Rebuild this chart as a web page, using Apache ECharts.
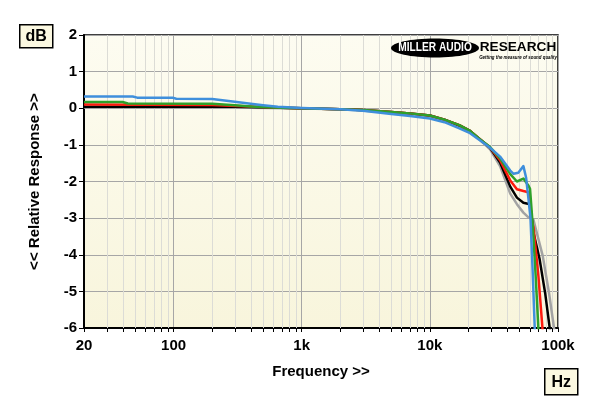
<!DOCTYPE html>
<html>
<head>
<meta charset="utf-8">
<script src="https://cdn.jsdelivr.net/npm/echarts@6/dist/echarts.min.js"></script>
<style>
  html, body { margin: 0; padding: 0; background: #fff; }
  #chart { width: 600px; height: 398px; }
</style>
</head>
<body>
<div id="chart"></div>
<script>
// frequency (Hz) / response (dB)
const blueFreq = [20, 48, 52, 98, 105, 200, 300, 400, 500, 650, 1000, 2000, 3000, 5000, 7000, 10000, 13000, 17000, 20600, 24700, 29500, 35300, 42400, 45000, 49000, 53700, 56400, 58500, 61000, 63500, 66000]
const blueDb = [0.32, 0.32, 0.29, 0.29, 0.26, 0.25, 0.18, 0.12, 0.08, 0.04, 0.01, -0.03, -0.07, -0.16, -0.21, -0.28, -0.38, -0.55, -0.68, -0.88, -1.08, -1.32, -1.7, -1.79, -1.76, -1.58, -1.9, -2.4, -3.0, -4.5, -6.1]

const greenFreq = [20, 40, 44, 200, 300, 400, 600, 1000, 2000, 3000, 5000, 7000, 10000, 13000, 17000, 20600, 24700, 29500, 35300, 42400, 47800, 53700, 58500, 60500, 63500, 67000, 70500]
const greenDb = [0.17, 0.17, 0.13, 0.12, 0.08, 0.05, 0.02, 0.0, -0.03, -0.05, -0.1, -0.14, -0.2, -0.31, -0.46, -0.62, -0.85, -1.06, -1.37, -1.8, -2.0, -1.92, -2.1, -2.2, -3.2, -4.6, -6.1]

const redFreq = [20, 200, 400, 600, 1000, 2000, 3000, 5000, 7000, 10000, 13000, 17000, 20600, 24700, 29500, 35300, 42400, 47800, 53700, 59800, 61500, 64400, 70400, 76000]
const redDb = [0.1, 0.09, 0.05, 0.02, 0.0, -0.03, -0.05, -0.1, -0.14, -0.2, -0.31, -0.46, -0.62, -0.85, -1.07, -1.42, -1.97, -2.21, -2.26, -2.3, -3.0, -3.25, -4.6, -6.1]

const blackFreq = [20, 300, 1000, 2000, 3000, 5000, 7000, 10000, 13000, 17000, 20600, 24700, 29500, 35300, 42400, 47800, 53700, 60500, 62000, 64400, 71700, 79400, 86900]
const blackDb = [0.04, 0.04, 0.0, -0.03, -0.05, -0.1, -0.14, -0.2, -0.31, -0.47, -0.62, -0.85, -1.08, -1.48, -2.14, -2.44, -2.58, -2.62, -2.9, -3.4, -4.1, -5.05, -6.1]

const grayFreq = [20, 300, 1000, 2000, 3000, 5000, 7000, 10000, 13000, 17000, 20600, 24700, 29500, 35300, 42400, 47800, 53700, 58800, 64400, 76000, 85000, 94000]
const grayDb = [0.02, 0.02, -0.01, -0.03, -0.06, -0.12, -0.16, -0.22, -0.32, -0.48, -0.64, -0.87, -1.12, -1.58, -2.33, -2.62, -2.85, -2.98, -3.05, -4.03, -5.03, -6.1]

// minor grid positions on the log axis
const minorFreq = [30, 40, 50, 60, 70, 80, 90, 200, 300, 400, 500, 600, 700, 800, 900,
  2000, 3000, 4000, 5000, 6000, 7000, 8000, 9000, 20000, 30000, 40000, 50000, 60000, 70000, 80000, 90000]

const FONT = 'Liberation Sans'

function pairs(fs, vs) {
  return fs.map((f, i) => [f, vs[i]])
}

function curve(name, color, fs, vs, z) {
  return {
    name,
    type: 'line',
    data: pairs(fs, vs),
    showSymbol: false,
    symbol: 'none',
    smooth: false,
    silent: true,
    z,
    lineStyle: { color, width: 2.5, join: 'round' },
  }
}

const chart = echarts.init(document.getElementById('chart'), null, { renderer: 'canvas' })

chart.setOption({
  animation: false,
  backgroundColor: '#ffffff',
  grid: {
    left: 84,
    right: 42,
    top: 35,
    bottom: 70,
    show: true,
    borderColor: '#000',
    borderWidth: 1.5,
    backgroundColor: new echarts.graphic.LinearGradient(0, 0, 0, 1, [
      { offset: 0, color: '#fdfcf1' },
      { offset: 1, color: '#f8f5dc' },
    ]),
  },
  xAxis: {
    type: 'log',
    logBase: 10,
    min: 20,
    max: 100000,
    name: 'Frequency >>',
    nameLocation: 'middle',
    nameGap: 36,
    nameTextStyle: { fontFamily: FONT, fontWeight: 'bold', fontSize: 15, color: '#000' },
    axisLine: { show: true, onZero: false, lineStyle: { color: '#000', width: 2 } },
    axisTick: { show: true, length: 4, lineStyle: { color: '#000', width: 1 } },
    axisLabel: {
      fontFamily: FONT, fontWeight: 'bold', fontSize: 15, color: '#000', margin: 10,
      formatter: (v) => {
        const r = Math.round(v)
        return r >= 1000 ? Math.round(r / 1000) + 'k' : String(r)
      },
    },
    splitLine: { show: true, lineStyle: { color: '#a6a6a6', width: 1 } },
    minorTick: { show: false },
    minorSplitLine: { show: false },
  },
  yAxis: {
    type: 'value',
    min: -6,
    max: 2,
    interval: 1,
    name: '<< Relative Response >>',
    nameLocation: 'middle',
    nameGap: 42,
    nameTextStyle: { fontFamily: FONT, fontWeight: 'bold', fontSize: 15, color: '#000' },
    axisLine: { show: true, onZero: false, lineStyle: { color: '#000', width: 2 } },
    axisTick: { show: true, length: 5, lineStyle: { color: '#000', width: 1 } },
    axisLabel: { fontFamily: FONT, fontWeight: 'bold', fontSize: 15, color: '#000', margin: 7 },
    splitLine: { show: true, lineStyle: { color: '#a6a6a6', width: 1 } },
  },
  series: [
    {
      type: 'custom',
      silent: true,
      clip: false,
      z: 1,
      data: minorFreq.map((f) => [f, -6]),
      encode: { x: 0, y: 1 },
      renderItem: (params, api) => {
        const bottom = api.coord([api.value(0), -6])
        const top = api.coord([api.value(0), 2])
        const x = Math.round(bottom[0]) + 0.5
        return {
          type: 'group',
          children: [
            {
              type: 'line',
              shape: { x1: x, y1: top[1], x2: x, y2: bottom[1] },
              style: { stroke: '#dcdcd6', lineWidth: 1 },
            },
            {
              type: 'line',
              shape: { x1: x, y1: bottom[1], x2: x, y2: bottom[1] + 4 },
              style: { stroke: '#000', lineWidth: 1 },
            },
          ],
        }
      },
    },
    curve('gray', '#a3a3a3', grayFreq, grayDb, 3),
    curve('black', '#000000', blackFreq, blackDb, 4),
    curve('red', '#ff1a0d', redFreq, redDb, 5),
    curve('green', '#2ea02a', greenFreq, greenDb, 6),
    curve('blue', '#3f8fdc', blueFreq, blueDb, 7),
  ],
  graphic: [
    // unit boxes
    {
      type: 'group', left: 19, top: 24,
      children: [
        { type: 'rect', shape: { x: 0, y: 0, width: 33, height: 23 }, style: { fill: '#fbf8e1', stroke: '#000', lineWidth: 1.5 } },
        { type: 'text', x: 16.5, y: 12, style: { text: 'dB', fontFamily: FONT, fontWeight: 'bold', fontSize: 16, fill: '#000', align: 'center', verticalAlign: 'middle' } },
      ],
    },
    {
      type: 'group', left: 544, top: 368,
      children: [
        { type: 'rect', shape: { x: 0, y: 0, width: 33, height: 26 }, style: { fill: '#fbf8e1', stroke: '#000', lineWidth: 1.5 } },
        { type: 'text', x: 16.5, y: 13.5, style: { text: 'Hz', fontFamily: FONT, fontWeight: 'bold', fontSize: 16, fill: '#000', align: 'center', verticalAlign: 'middle' } },
      ],
    },
    // logo
    {
      type: 'ellipse', z: 20,
      shape: { cx: 435, cy: 48, rx: 44, ry: 9.5 },
      style: { fill: '#000' },
    },
    {
      type: 'text', z: 21, x: 435, y: 48, scaleX: 0.85,
      style: { text: 'MILLER AUDIO', fontFamily: FONT, fontWeight: 'bold', fontSize: 12, fill: '#fff', align: 'center', verticalAlign: 'middle' },
    },
    {
      type: 'text', z: 21, x: 518, y: 47, scaleX: 1.05,
      style: { text: 'RESEARCH', fontFamily: FONT, fontWeight: 'bold', fontSize: 13, fill: '#000', align: 'center', verticalAlign: 'middle' },
    },
    {
      type: 'text', z: 21, x: 518, y: 57, scaleX: 0.8,
      style: { text: 'Getting the measure of sound quality', fontFamily: FONT, fontWeight: 'bold', fontStyle: 'italic', fontSize: 5.5, fill: '#000', align: 'center', verticalAlign: 'middle' },
    },
  ],
})
</script>
</body>
</html>
